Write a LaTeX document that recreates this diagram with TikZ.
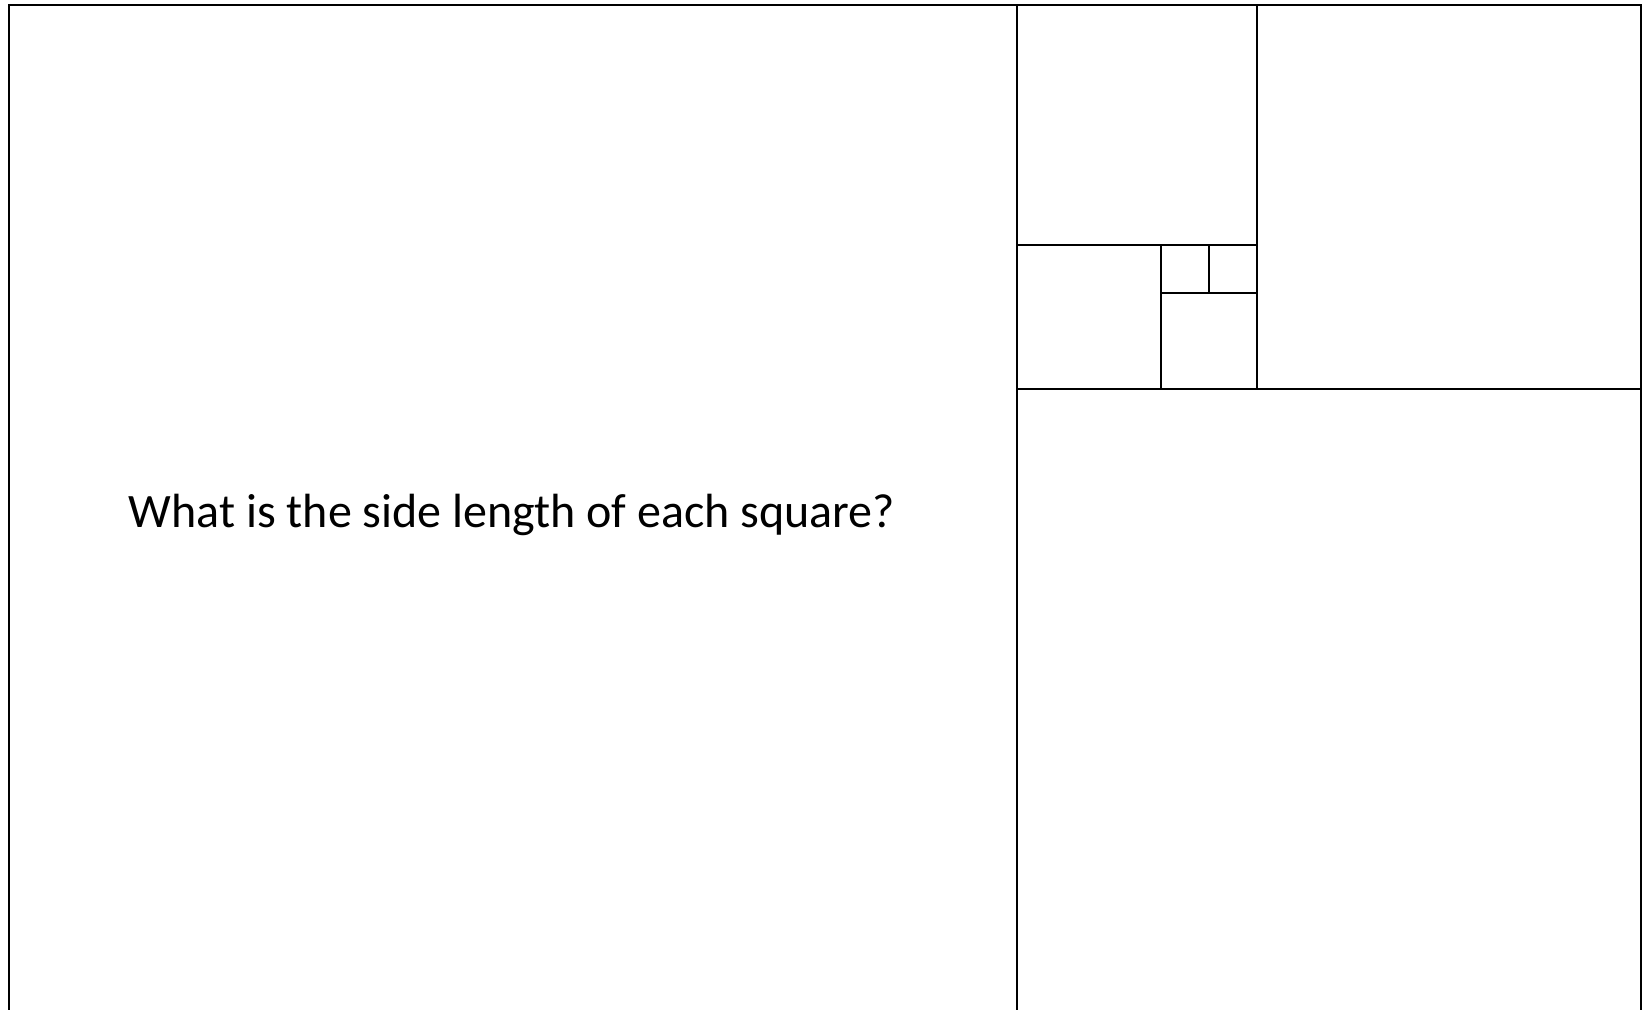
\documentclass[tikz,border=0pt]{standalone}
\usepackage{fontspec}
\setmainfont{Carlito}
\begin{document}
\begin{tikzpicture}[x=0.5pt,y=-0.5pt,
  sq/.style={draw=black,line width=1pt},
  label/.style={font=\fontsize{24pt}{29pt}\selectfont,anchor=base,inner sep=0pt}]
\useasboundingbox (0,0) rectangle (1651,1009);
\clip (0,0) rectangle (1651,1009);
\draw[sq] (9,5) rectangle (1017,1013);
\draw[sq] (1017,5) rectangle (1257,245);
\draw[sq] (1257,5) rectangle (1641,389);
\draw[sq] (1017,245) rectangle (1161,389);
\draw[sq] (1161,293) rectangle (1257,389);
\draw[sq] (1161,245) rectangle (1209,293);
\draw[sq] (1209,245) rectangle (1257,293);
\draw[sq] (1017,389) rectangle (1641,1013);
\node[label] (q) at (512,527) {What is the side length of each square?};
\end{tikzpicture}
\end{document}
